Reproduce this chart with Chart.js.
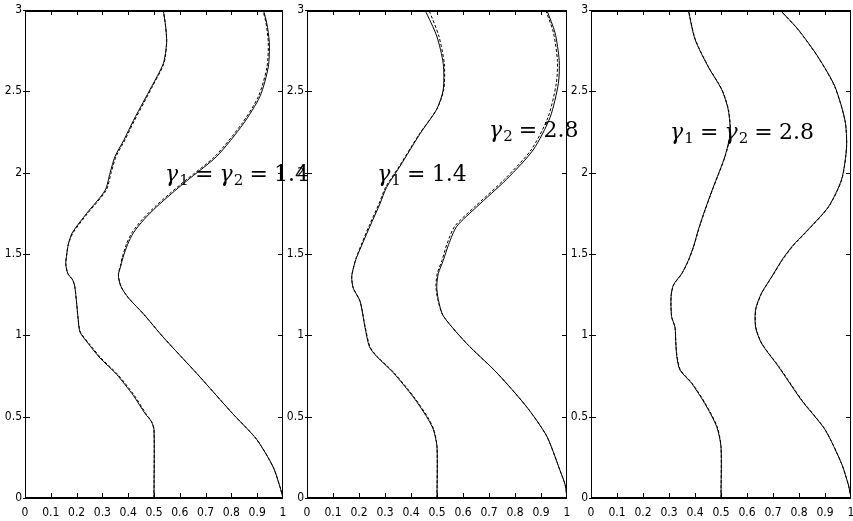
<!DOCTYPE html>
<html><head><meta charset="utf-8">
<script src="https://cdn.jsdelivr.net/npm/chart.js@4/dist/chart.umd.min.js"></script>
<style>
html,body{margin:0;padding:0;background:#fff;}
#wrap{position:relative;width:853px;height:521px;overflow:hidden;background:#fff;}
.layer{position:absolute;left:0;top:0;width:853px;height:521px;}
</style></head><body>
<div id="wrap">
<div class="layer"><canvas id="c1"></canvas></div>
<div class="layer"><canvas id="c2"></canvas></div>
<div class="layer"><canvas id="c3"></canvas></div>
</div>
<script>
// ---- tick labels ----
const xTickValues = [0,0.1,0.2,0.3,0.4,0.5,0.6,0.7,0.8,0.9,1];
const xTickLabels = ['0','0.1','0.2','0.3','0.4','0.5','0.6','0.7','0.8','0.9','1'];
const yTickValues = [0,0.5,1,1.5,2,2.5,3];
const yTickLabels = ['0','0.5','1','1.5','2','2.5','3'];

// ---- Panel 1: gamma1 = gamma2 = 1.4 ----
const p1LeftY   = [0,0.42,0.47,0.52,0.63,0.76,0.86,0.95,1.02,1.10,1.20,1.30,1.34,1.38,1.44,1.50,1.56,1.63,1.75,1.89,2.0,2.1,2.2,2.32,2.43,2.53,2.67,2.80,2.90,3.0];
const p1LeftX   = [0.5,0.5,0.49,0.465,0.42,0.355,0.291,0.245,0.213,0.206,0.2,0.193,0.185,0.166,0.158,0.162,0.168,0.183,0.239,0.31,0.33,0.349,0.383,0.42,0.457,0.491,0.536,0.549,0.545,0.536];
const p1LeftXd  = [0.5,0.5,0.49,0.468,0.424,0.359,0.295,0.248,0.215,0.206,0.2,0.193,0.185,0.166,0.158,0.162,0.168,0.186,0.243,0.314,0.334,0.353,0.387,0.424,0.461,0.494,0.538,0.549,0.545,0.536];
const p1RightY  = [0,0.07,0.19,0.36,0.52,0.76,0.99,1.13,1.23,1.30,1.37,1.43,1.48,1.56,1.63,1.71,1.79,1.87,1.95,2.10,2.30,2.47,2.65,2.80,2.92,3.0];
const p1RightX  = [1.0,0.988,0.962,0.898,0.804,0.669,0.535,0.46,0.401,0.372,0.362,0.372,0.38,0.398,0.42,0.46,0.51,0.567,0.627,0.743,0.846,0.911,0.943,0.947,0.937,0.924];
const p1RightXd = [1.0,0.988,0.962,0.898,0.804,0.669,0.535,0.46,0.401,0.372,0.362,0.370,0.377,0.393,0.414,0.453,0.503,0.560,0.620,0.736,0.840,0.905,0.938,0.943,0.934,0.922];

// ---- Panel 2: gamma1 = 1.4, gamma2 = 2.8 ----
const p2LeftY   = [0,0.315,0.42,0.50,0.62,0.77,0.87,0.93,1.05,1.21,1.29,1.36,1.43,1.48,1.57,1.67,1.81,1.91,2.04,2.24,2.39,2.51,2.67,2.84,3.0];
const p2LeftX   = [0.5,0.5,0.486,0.46,0.409,0.332,0.268,0.24,0.223,0.204,0.178,0.172,0.181,0.191,0.215,0.242,0.281,0.306,0.358,0.435,0.499,0.524,0.524,0.499,0.454];
const p2LeftXd  = [0.5,0.5,0.488,0.463,0.412,0.335,0.27,0.242,0.224,0.204,0.178,0.172,0.181,0.19,0.212,0.238,0.277,0.302,0.355,0.433,0.499,0.526,0.528,0.507,0.469];
const p2RightY  = [0,0.08,0.17,0.38,0.56,0.77,0.95,1.12,1.22,1.30,1.38,1.46,1.56,1.67,1.79,1.96,2.14,2.34,2.55,2.69,2.86,3.0];
const p2RightX  = [1.0,0.993,0.973,0.922,0.845,0.73,0.614,0.524,0.505,0.499,0.505,0.524,0.545,0.576,0.653,0.768,0.87,0.935,0.967,0.97,0.954,0.922];
const p2RightXd = [1.0,0.993,0.973,0.922,0.845,0.73,0.614,0.524,0.503,0.496,0.501,0.519,0.538,0.568,0.645,0.760,0.862,0.927,0.959,0.963,0.948,0.918];

// ---- Panel 3: gamma1 = gamma2 = 2.8 ----
const p3LeftY   = [0,0.315,0.44,0.58,0.705,0.787,0.87,0.96,1.05,1.115,1.24,1.31,1.38,1.46,1.55,1.65,1.77,1.91,2.10,2.24,2.385,2.51,2.65,2.82,3.0];
const p3LeftX   = [0.5,0.5,0.483,0.438,0.387,0.342,0.33,0.326,0.323,0.31,0.308,0.317,0.349,0.374,0.395,0.413,0.438,0.47,0.515,0.535,0.528,0.503,0.451,0.4,0.374];
const p3LeftXd  = [0.5,0.5,0.485,0.44,0.389,0.344,0.331,0.326,0.323,0.31,0.308,0.318,0.35,0.375,0.396,0.414,0.439,0.471,0.516,0.536,0.529,0.504,0.452,0.401,0.375];
const p3RightY  = [0,0.08,0.21,0.42,0.60,0.81,0.95,1.05,1.16,1.26,1.36,1.46,1.55,1.63,1.79,1.96,2.16,2.32,2.53,2.71,2.88,3.0];
const p3RightX  = [1.0,0.99,0.964,0.9,0.81,0.72,0.656,0.633,0.633,0.656,0.695,0.733,0.775,0.823,0.913,0.964,0.983,0.977,0.938,0.874,0.797,0.727];
const p3RightXd = [1.0,0.99,0.964,0.901,0.812,0.722,0.657,0.634,0.634,0.657,0.696,0.735,0.777,0.825,0.914,0.965,0.983,0.977,0.937,0.873,0.796,0.727];

// ---- annotations (text, x, baseline y in data units) ----
const p1Notes = [{text:'γ_1 = γ_2 = 1.4', x:0.543, y:1.949}];
const p2Notes = [{text:'γ_1 = 1.4', x:0.27, y:1.949},{text:'γ_2 = 2.8', x:0.70, y:2.219}];
const p3Notes = [{text:'γ_1 = γ_2 = 2.8', x:0.304, y:2.207}];

const SERIF = "'DejaVu Serif', 'Liberation Serif', serif";
const TICKFONT = "'DejaVu Sans Condensed','Liberation Sans Narrow','Liberation Sans',sans-serif";
const FS = 22;

function drawMath(ctx, x, y, str, size){
  ctx.save();
  ctx.fillStyle = '#000';
  ctx.textBaseline = 'alphabetic';
  ctx.textAlign = 'left';
  let cx = x;
  const re = /(γ)|_(\d)|( = )|([^γ_]+)/g;
  let m;
  while ((m = re.exec(str)) !== null){
    if (m[1]){
      ctx.font = 'italic ' + size + 'px ' + SERIF;
      ctx.fillText(m[1], cx, y);
      cx += ctx.measureText(m[1]).width;
    } else if (m[2]){
      ctx.font = Math.round(size*0.7) + 'px ' + SERIF;
      ctx.fillText(m[2], cx + 1, y + Math.round(size*0.2));
      cx += ctx.measureText(m[2]).width + 1;
    } else if (m[3]){
      ctx.font = size + 'px ' + SERIF;
      cx += size*0.28;
      ctx.fillText('=', cx, y);
      cx += ctx.measureText('=').width + size*0.28;
    } else {
      ctx.font = size + 'px ' + SERIF;
      ctx.fillText(m[4], cx, y);
      cx += ctx.measureText(m[4]).width;
    }
  }
  ctx.restore();
}

const boxPlugin = {
  id: 'matlabBox',
  afterDatasetsDraw(chart){
    const {ctx, chartArea:a, scales} = chart;
    const xs = scales.x, ys = scales.y;
    ctx.save();
    ctx.strokeStyle = '#000';
    ctx.lineWidth = 1;
    ctx.beginPath();
    const tl = 5;
    xTickValues.forEach(v => {
      if (v <= xs.min || v >= xs.max) return;
      const px = Math.round(xs.getPixelForValue(v)) + 0.5;
      ctx.moveTo(px, a.bottom); ctx.lineTo(px, a.bottom - tl);
      ctx.moveTo(px, a.top); ctx.lineTo(px, a.top + tl);
    });
    yTickValues.forEach(v => {
      const py = Math.round(ys.getPixelForValue(v)) + 0.5;
      ctx.moveTo(a.left - 2, py); ctx.lineTo(a.left, py);
      if (v <= ys.min || v >= ys.max) return;
      ctx.moveTo(a.left, py); ctx.lineTo(a.left + tl, py);
      ctx.moveTo(a.right, py); ctx.lineTo(a.right - tl, py);
    });
    ctx.stroke();
    ctx.beginPath();
    ctx.moveTo(a.left + 0.5, a.top); ctx.lineTo(a.left + 0.5, a.bottom);
    ctx.moveTo(a.right - 0.5, a.top); ctx.lineTo(a.right - 0.5, a.bottom);
    ctx.stroke();
    ctx.lineWidth = 2;
    ctx.beginPath();
    ctx.moveTo(a.left, a.top + 1); ctx.lineTo(a.right, a.top + 1);
    ctx.moveTo(a.left, a.bottom); ctx.lineTo(a.right, a.bottom);
    ctx.stroke();
    ctx.restore();
  },
  afterDraw(chart){
    const notes = chart.options.plugins.matlabBox.notes || [];
    const xs = chart.scales.x, ys = chart.scales.y;
    notes.forEach(n => {
      drawMath(chart.ctx, xs.getPixelForValue(n.x), ys.getPixelForValue(n.y), n.text, FS);
    });
  }
};

function curveData(xs, ys){ return ys.map((y,i) => ({x: xs[i], y: y})); }

function makePanel(id, curves, notes, left, right, top, bottom){
  const datasets = [];
  curves.forEach(c => {
    datasets.push({data: curveData(c.x, c.y), borderColor:'#000', borderWidth:1, pointRadius:0, showLine:true, tension:0.25, fill:false});
    datasets.push({data: curveData(c.xd, c.y), borderColor:'#000', borderWidth:1, borderDash:[3,2], pointRadius:0, showLine:true, tension:0.25, fill:false});
  });
  const YW = 20, XH = 20;
  new Chart(document.getElementById(id), {
    type: 'scatter',
    data: {datasets},
    plugins: [boxPlugin],
    options: {
      responsive: true,
      maintainAspectRatio: false,
      animation: false,
      events: [],
      layout: {padding: {left: left - YW, right: 853 - right, top: top, bottom: 521 - bottom - XH}},
      plugins: {legend:{display:false}, tooltip:{enabled:false}, matlabBox:{notes}},
      scales: {
        x: {
          type:'linear', min:0, max:1,
          grid:{display:false, drawTicks:false},
          border:{display:false},
          afterBuildTicks: s => { s.ticks = xTickValues.map(v => ({value:v})); },
          afterFit: s => { s.height = XH; s.paddingLeft = 0; s.paddingRight = 0; },
          ticks:{autoSkip:false, maxRotation:0, padding:8, color:'#000',
                 font:{family:TICKFONT, size:12},
                 callback:(v, i) => xTickLabels[i]}
        },
        y: {
          type:'linear', min:0, max:3,
          grid:{display:false, drawTicks:false},
          border:{display:false},
          afterBuildTicks: s => { s.ticks = yTickValues.map(v => ({value:v})); },
          afterFit: s => { s.width = YW; s.paddingTop = 0; s.paddingBottom = 0; },
          ticks:{autoSkip:false, padding:3, color:'#000',
                 font:{family:TICKFONT, size:12},
                 callback:(v, i) => yTickLabels[i]}
        }
      }
    }
  });
}

makePanel('c1', [{x:p1LeftX, xd:p1LeftXd, y:p1LeftY},{x:p1RightX, xd:p1RightXd, y:p1RightY}], p1Notes, 25, 283, 10, 498);
makePanel('c2', [{x:p2LeftX, xd:p2LeftXd, y:p2LeftY},{x:p2RightX, xd:p2RightXd, y:p2RightY}], p2Notes, 307, 567, 10, 498);
makePanel('c3', [{x:p3LeftX, xd:p3LeftXd, y:p3LeftY},{x:p3RightX, xd:p3RightXd, y:p3RightY}], p3Notes, 591, 851, 10, 498);
</script>
</body></html>
